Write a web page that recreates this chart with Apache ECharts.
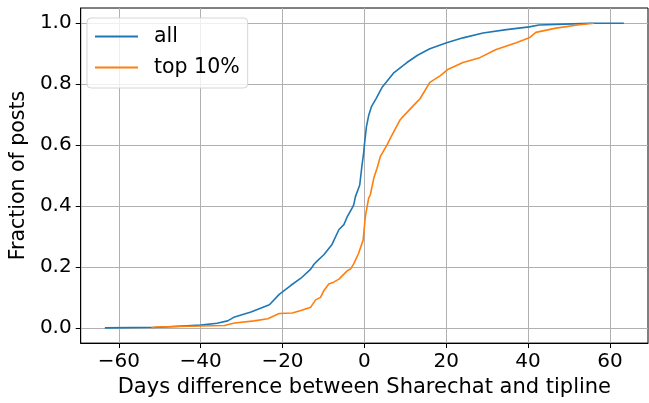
<!DOCTYPE html>
<html>
<head>
<meta charset="utf-8">
<script src="https://cdn.jsdelivr.net/npm/echarts@6/dist/echarts.min.js"></script>
<style>html,body{margin:0;padding:0;background:#fff;}#c{width:649px;height:403px;}</style>
</head>
<body>
<div id="c"></div>
<script>
const xTicks = [-60, -40, -20, 0, 20, 40, 60];
const yTicks = [0.0, 0.2, 0.4, 0.6, 0.8, 1.0];
const seriesNames = ['all', 'top 10%'];
const allDays = [-63.4, -50, -40, -36, -33.4, -31.7, -27.7, -23.2, -20.8, -18, -15.5, -13.1, -12.3, -11.5, -9.9, -7.9, -6.2, -5.0, -4.2, -3.0, -2.6, -2.2, -1.13, -0.57, -0.2, 0, 0.5, 1.05, 1.8, 2.8, 4.3, 7.1, 10.4, 13, 16, 20.1, 24.1, 29, 34.7, 40.3, 42.7, 50.8, 55, 63.4];
const allFrac = [0, 0.002, 0.009, 0.015, 0.023, 0.036, 0.052, 0.076, 0.11, 0.139, 0.163, 0.193, 0.209, 0.22, 0.24, 0.274, 0.323, 0.339, 0.364, 0.393, 0.404, 0.43, 0.469, 0.534, 0.57, 0.6, 0.66, 0.697, 0.728, 0.751, 0.789, 0.836, 0.871, 0.895, 0.916, 0.936, 0.952, 0.968, 0.979, 0.988, 0.994, 0.998, 1.0, 1.0];
const topDays = [-52, -51, -40, -34.2, -31.7, -26.9, -23.6, -20.8, -17.6, -15.5, -13.1, -11.9, -10.7, -9.9, -8.7, -7.5, -6.2, -4.2, -3.4, -2.6, -1.4, -0.3, 0.24, 1.05, 1.46, 2.3, 3.1, 3.9, 5.5, 6.3, 8.7, 9.2, 12.8, 13.6, 16, 18.5, 20.5, 24.1, 28.2, 32.2, 37.1, 40.3, 41.9, 46.8, 52.5, 56.1];
const topFrac = [0, 0.003, 0.006, 0.008, 0.016, 0.023, 0.030, 0.047, 0.049, 0.057, 0.068, 0.092, 0.10, 0.122, 0.144, 0.15, 0.16, 0.187, 0.193, 0.21, 0.245, 0.288, 0.365, 0.426, 0.437, 0.491, 0.524, 0.562, 0.6, 0.621, 0.682, 0.69, 0.741, 0.752, 0.806, 0.827, 0.849, 0.871, 0.887, 0.914, 0.936, 0.952, 0.970, 0.984, 0.995, 1.0];

const FONT = 'DejaVu Sans';
const toPairs = (xs, ys) => xs.map((x, i) => [x, ys[i]]);
const chart = echarts.init(document.getElementById('c'), null, {renderer: 'canvas'});
const gridLine = {show: true, lineStyle: {color: '#b0b0b0', width: 1}};
chart.setOption({
  animation: false,
  backgroundColor: '#fff',
  textStyle: {fontFamily: FONT},
  grid: {left: 77, top: 8, width: 571, height: 338, show: true, borderColor: '#000', borderWidth: 1, backgroundColor: 'transparent'},
  legend: {
    left: 87, top: 18, orient: 'vertical',
    padding: [8, 8, 10, 8], itemGap: 10,
    itemWidth: 43, itemHeight: 2, icon: 'rect',
    backgroundColor: 'rgba(255,255,255,0.8)', borderColor: '#d5d5d5', borderWidth: 1, borderRadius: 4,
    textStyle: {fontFamily: FONT, fontSize: 20.5, color: '#000', padding: [0, 0, 0, 11]},
    data: seriesNames
  },
  xAxis: {
    type: 'value', min: -69.3, max: 69.3,
    name: 'Days difference between Sharechat and tipline', nameLocation: 'middle', nameGap: 29,
    nameTextStyle: {fontFamily: FONT, fontSize: 21, color: '#000'},
    axisLine: {show: true, onZero: false, lineStyle: {color: '#000', width: 1}},
    axisTick: {show: true, length: 5, lineStyle: {color: '#000'}, customValues: xTicks},
    axisLabel: {fontFamily: FONT, fontSize: 20, color: '#000', margin: 9, customValues: xTicks,
      formatter: v => (v < 0 ? '\u2212' + Math.abs(v) : String(v))},
    splitLine: gridLine
  },
  yAxis: {
    type: 'value', min: -0.05, max: 1.05,
    name: 'Fraction of posts', nameLocation: 'middle', nameGap: 48,
    nameTextStyle: {fontFamily: FONT, fontSize: 20.5, color: '#000'},
    axisLine: {show: true, onZero: false, lineStyle: {color: '#000', width: 1}},
    axisTick: {show: true, length: 5, lineStyle: {color: '#000'}, customValues: yTicks},
    axisLabel: {fontFamily: FONT, fontSize: 20, color: '#000', margin: 9, customValues: yTicks,
      formatter: v => v.toFixed(1)},
    splitLine: gridLine
  },
  series: [
    {name: seriesNames[0], type: 'line', data: toPairs(allDays, allFrac), showSymbol: false, symbol: 'none',
      lineStyle: {color: '#1f77b4', width: 1.6}, itemStyle: {color: '#1f77b4'}},
    {name: seriesNames[1], type: 'line', data: toPairs(topDays, topFrac), showSymbol: false, symbol: 'none',
      lineStyle: {color: '#ff7f0e', width: 1.6}, itemStyle: {color: '#ff7f0e'}}
  ]
});
</script>
</body>
</html>
